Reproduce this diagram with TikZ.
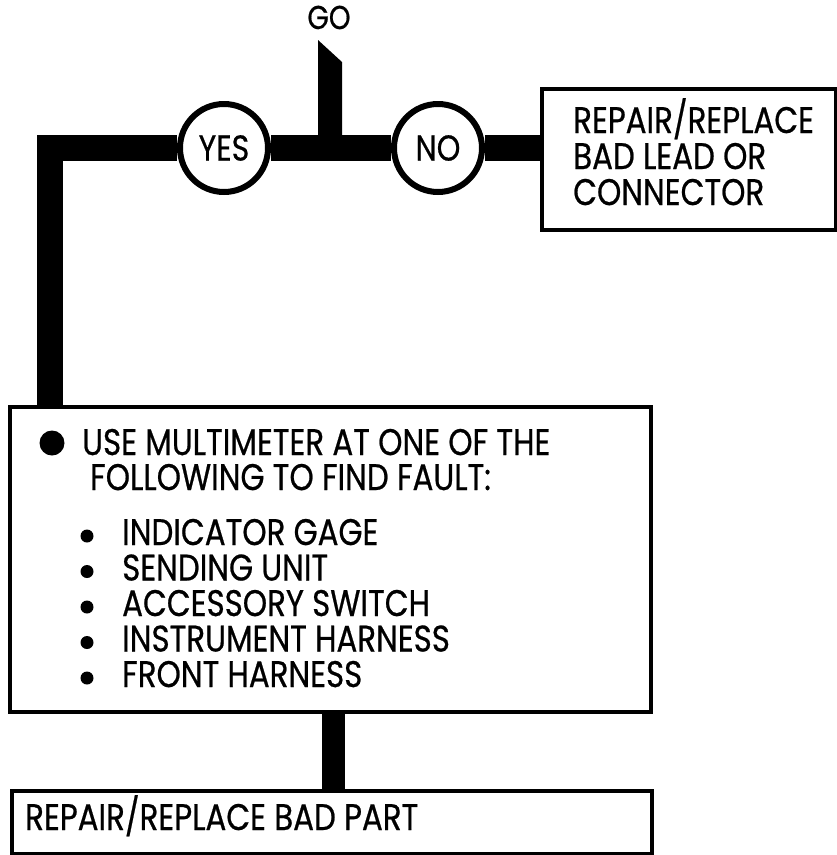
\documentclass[tikz,border=0pt]{standalone}
\usepackage{fontspec}
\setmainfont{Poppins}[FakeStretch=0.835, FakeBold=0.6]
\usepackage{tikz}
\usetikzlibrary{positioning,calc}

\newcommand\bigfont{\fontsize{37}{36}\selectfont}
\tikzset{
  box/.style={draw, line width=4pt, fill=white, inner sep=0pt},
  choice/.style={circle, draw, line width=6pt, fill=white, minimum size=88pt, inner sep=0pt, font=\fontsize{36}{36}\selectfont},
  wire/.style={line width=26pt, line join=miter},
  lbl/.style={inner sep=0pt, font=\bigfont, anchor=base west},
}

\begin{document}
\begin{tikzpicture}[x=1pt, y=-1pt]
\useasboundingbox (0,0) rectangle (837,855);
% decision row
\node[inner sep=0pt, font=\fontsize{33}{34}\selectfont, anchor=base] (go) at (329,29) {GO};
\node[choice] (yes) at (224,148) {YES};
\node[choice] (no) at (438,148) {NO};
\node[box, anchor=north west, minimum width=294pt, minimum height=141pt] (badlead) at (540,87) {};
\foreach \ln [count=\i] in {REPAIR/REPLACE, BAD LEAD OR, CONNECTOR}
  \node[lbl] (lead\i) at (573,{133+36*(\i-1)}) {\ln};
% multimeter step
\node[box, anchor=north west, minimum width=641pt, minimum height=305pt] (meter) at (8,405) {};
\fill (52,443) circle (12.5pt);
\node[lbl] (use) at (82,455) {USE MULTIMETER AT ONE OF THE};
\node[lbl] (follow) at (90,490) {FOLLOWING TO FIND FAULT:};
\foreach \comp [count=\i] in {INDICATOR GAGE, SENDING UNIT, ACCESSORY SWITCH, INSTRUMENT HARNESS, FRONT HARNESS} {
  \fill (87,{536+35.5*(\i-1)}) circle (6.5pt);
  \node[lbl] (comp\i) at (122,{545+35.5*(\i-1)}) {\comp};
}
% last step
\node[box, anchor=north west, minimum width=640pt, minimum height=63pt] (badpart) at (10,789) {};
\node[lbl] (parttxt) at (25,830) {REPAIR/REPLACE BAD PART};
% wires
\coordinate (gotop) at (318,40);
\fill (gotop) -- ++(24,22) -- ++(0,86) -- ++(-24,0) -- cycle;
\coordinate (corner) at (50,148);
\draw[wire] (yes.west) -- (corner) -- (corner |- meter.north);
\draw[wire] (yes.east) -- (no.west);
\draw[wire] (no.east) -- (no.east -| badlead.west);
\coordinate (drop) at (333.5,0);
\draw[wire, line width=23pt] (meter.south -| drop) -- (badpart.north -| drop);
\end{tikzpicture}
\end{document}
